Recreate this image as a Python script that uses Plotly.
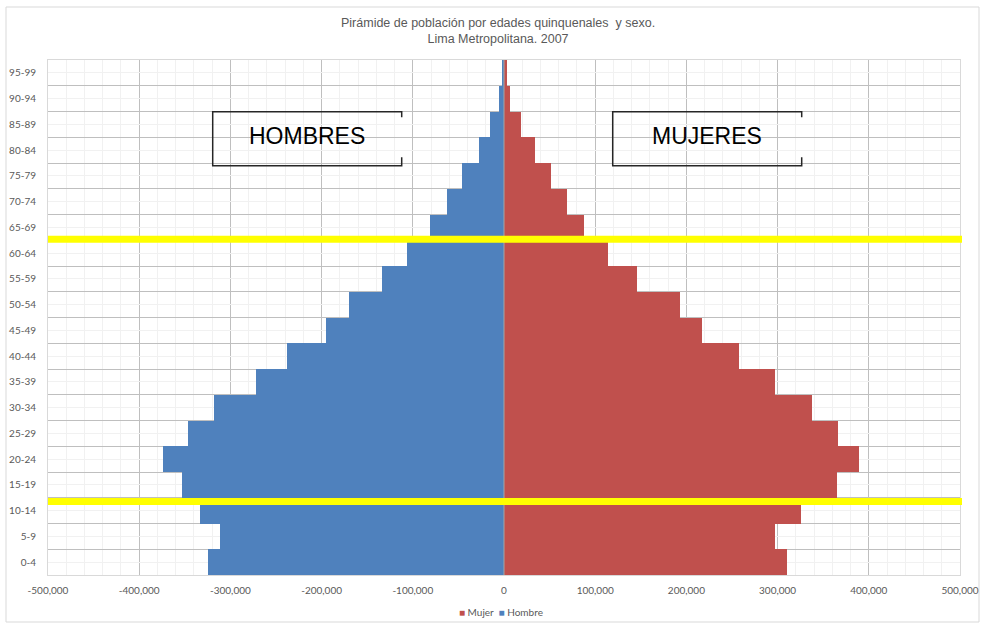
import plotly.graph_objects as go
import numpy as np

# ---- data ----
age_groups = ["0-4", "5-9", "10-14", "15-19", "20-24", "25-29", "30-34", "35-39",
              "40-44", "45-49", "50-54", "55-59", "60-64", "65-69", "70-74",
              "75-79", "80-84", "85-89", "90-94", "95-99"]
hombre = [324500, 311500, 333500, 353500, 374000, 346500, 318500, 271500,
          237500, 195500, 169500, 133500, 106500, 81500, 62500,
          46500, 27500, 15000, 5500, 2200]
mujer = [310000, 297600, 326000, 365400, 388800, 365700, 338000, 297600,
         257700, 216700, 192500, 145600, 114000, 88000, 69000,
         52000, 33500, 19000, 7000, 3000]
x_ticks = list(range(-500000, 500001, 100000))
x_ticktext = [f"{v:,}" for v in x_ticks]

title_text = "Pirámide de población por edades quinquenales  y sexo.<br>Lima Metropolitana. 2007"

# ---- layout geometry (pixels) ----
W, H = 983, 623
L, R, T, B = 48, 960, 60, 575
PW, PH = R - L, B - T


def px(x):
    return (x - L) / PW


def py(y):
    return (B - y) / PH


BLUE = "#4F81BD"
RED = "#C0504D"
GRID = "#BFBFBF"
MINOR = "#F1F1F1"
TXT = "#595959"

idx = list(range(len(age_groups)))

fig = go.Figure()
fig.add_trace(go.Bar(y=idx, x=mujer, orientation="h", name="Mujer",
                     marker=dict(color=RED, line=dict(width=0)), width=1))
fig.add_trace(go.Bar(y=idx, x=[-v for v in hombre], orientation="h", name="Hombre",
                     marker=dict(color=BLUE, line=dict(width=0)), width=1))

shapes = []
# outer chart border
shapes.append(dict(type="rect", xref="paper", yref="paper",
                   x0=px(6), x1=px(979), y0=py(7), y1=py(622),
                   line=dict(color="#D9D9D9", width=1), layer="below"))
# zero line
shapes.append(dict(type="line", xref="x", yref="paper", x0=0, x1=0, y0=0, y1=1,
                   line=dict(color="#A6A6A6", width=1), layer="above"))
# yellow lines
for yv in (12.54, 2.35):
    shapes.append(dict(type="line", xref="paper", yref="y", x0=0, x1=px(962),
                       y0=yv, y1=yv, line=dict(color="#FFFF00", width=7), layer="above"))


def box(xl, xr, yt, yb):
    p = (f"M {px(xr)},{py(yt + 5.5)} L {px(xr)},{py(yt)} L {px(xl)},{py(yt)} "
         f"L {px(xl)},{py(yb)} L {px(xr)},{py(yb)} L {px(xr)},{py(yb - 8.5)}")
    return dict(type="path", xref="paper", yref="paper", path=p,
                line=dict(color="#262626", width=1.5), layer="above")


shapes.append(box(212.7, 401.7, 111.7, 165.7))
shapes.append(box(612.7, 801.7, 111.7, 165.7))

legend_text = (f"<span style='color:{RED}'>■</span> Mujer  "
               f"<span style='color:{BLUE}'>■</span> Hombre")

annotations = [
    dict(text=title_text, xref="paper", yref="paper", x=px(498), y=py(31),
         xanchor="center", yanchor="middle", showarrow=False,
         font=dict(family="Liberation Sans, Arial", size=12.5, color=TXT)),
    dict(text="HOMBRES", xref="paper", yref="paper", x=px(306.5), y=py(136.5),
         xanchor="center", yanchor="middle", showarrow=False,
         font=dict(family="Liberation Sans, Arial", size=23, color="#000000")),
    dict(text="MUJERES", xref="paper", yref="paper", x=px(707), y=py(136.5),
         xanchor="center", yanchor="middle", showarrow=False,
         font=dict(family="Liberation Sans, Arial", size=23, color="#000000")),
    dict(text=legend_text, xref="paper", yref="paper", x=px(501), y=py(612),
         xanchor="center", yanchor="middle", showarrow=False,
         font=dict(family="Lato", size=10, color=TXT)),
]

fig.update_layout(
    width=W, height=H, autosize=False,
    margin=dict(l=L, r=W - R, t=T, b=H - B, pad=0),
    paper_bgcolor="white", plot_bgcolor="white",
    barmode="relative", bargap=0,
    showlegend=False,
    shapes=shapes, annotations=annotations,
    font=dict(family="Lato", size=10, color=TXT),
)

fig.update_xaxes(range=[-500000, 500000], tickmode="array", tickvals=x_ticks,
                 ticktext=x_ticktext, showgrid=True, gridcolor=GRID, gridwidth=1,
                 zeroline=False, showline=True, linecolor="#D9D9D9", mirror=True,
                 ticks="", ticklabelstandoff=6, automargin=False,
                 tickfont=dict(family="Lato", size=10, color=TXT),
                 minor=dict(tickmode="array",
                            tickvals=list(np.arange(-500000, 500001, 20000)),
                            showgrid=True, gridcolor=MINOR, gridwidth=1))
fig.update_yaxes(range=[-0.5, len(age_groups) - 0.5], tickmode="array", tickvals=idx,
                 ticktext=age_groups, showgrid=True, gridcolor=MINOR, gridwidth=1,
                 zeroline=False, showline=True, linecolor="#D9D9D9", mirror=True,
                 ticks="", ticklabelstandoff=9, automargin=False,
                 tickfont=dict(family="Lato", size=10, color=TXT),
                 minor=dict(tickmode="array",
                            tickvals=list(np.arange(-0.5, len(age_groups), 1.0)),
                            showgrid=True, gridcolor=GRID, gridwidth=1))

fig.write_html("out.html", config={"displayModeBar": False},
               post_script="document.body.style.margin='0px';document.body.style.overflow='hidden';")
